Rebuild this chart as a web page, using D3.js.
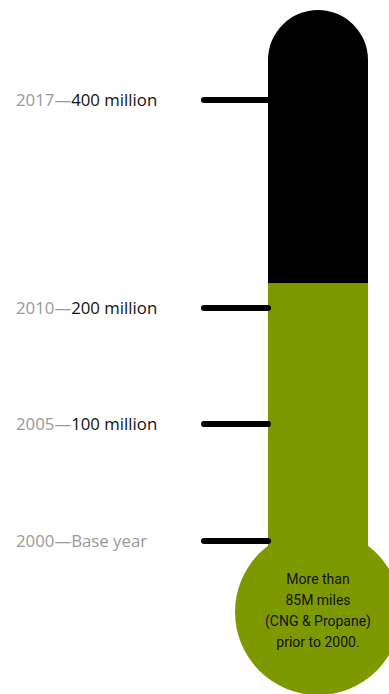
<!DOCTYPE html>
<html>
<head>
<meta charset="utf-8">
<script src="https://cdn.jsdelivr.net/npm/d3@7"></script>
<style>
  html, body { margin: 0; padding: 0; background: #fff; }
  svg { display: block; }
</style>
</head>
<body>
<script>
// Milestones: year, cumulative miles (millions), label text
const years = ["2017", "2010", "2005", "2000"];
const milesMillions = [400, 200, 100, 0];
const valueLabels = ["400 million", "200 million", "100 million", "Base year"];
// Current fill level of the tube (millions of miles)
const currentMiles = [224];
// Bulb note
const bulbLines = ["More than", "85M miles", "(CNG & Propane)", "prior to 2000."];

const W = 389, H = 694;
const svg = d3.select("body").append("svg").attr("width", W).attr("height", H);

// Vertical scale: piecewise to space the milestones along the tube
const y = d3.scaleLinear()
  .domain([0, 100, 200, 400])
  .range([541, 424, 308, 100]);

const tubeX = 268, tubeW = 100, tubeR = tubeW / 2;
const cx = tubeX + tubeR;
const tubeTop = y(400) - 90;
const bulbCY = 612, bulbR = 83;
const green = "#7e9900";

// Empty (black) part of the tube with rounded top
svg.append("path")
  .attr("d", `M${tubeX},${bulbCY} V${tubeTop + tubeR} A${tubeR},${tubeR} 0 0 1 ${tubeX + tubeW},${tubeTop + tubeR} V${bulbCY} Z`)
  .attr("fill", "#000");

// Filled (green) part of the tube
svg.append("rect")
  .attr("x", tubeX)
  .attr("y", y(currentMiles[0]))
  .attr("width", tubeW)
  .attr("height", bulbCY - y(currentMiles[0]))
  .attr("fill", green);

// Bulb
svg.append("circle")
  .attr("cx", cx)
  .attr("cy", bulbCY)
  .attr("r", bulbR)
  .attr("fill", green);

// Tick marks
svg.selectAll("line.tick")
  .data(milesMillions)
  .join("line")
  .attr("class", "tick")
  .attr("x1", 204)
  .attr("x2", tubeX)
  .attr("y1", d => y(d))
  .attr("y2", d => y(d))
  .attr("stroke", "#000")
  .attr("stroke-width", 6)
  .attr("stroke-linecap", "round");

// Milestone labels
const lab = svg.selectAll("text.lab")
  .data(years.map((yr, i) => ({ yr, v: milesMillions[i], t: valueLabels[i] })))
  .join("text")
  .attr("class", "lab")
  .attr("x", 16)
  .attr("y", d => y(d.v))
  .attr("dy", "0.36em")
  .attr("font-family", "'Open Sans', sans-serif")
  .attr("font-size", 16.8);

lab.append("tspan").attr("fill", "#999").text(d => d.yr + "\u2014");
lab.append("tspan").attr("fill", d => d.v === 0 ? "#999" : "#111").text(d => d.t);

// Bulb text
svg.append("text")
  .attr("text-anchor", "middle")
  .attr("font-family", "Roboto, sans-serif")
  .attr("font-size", 14)
  .attr("fill", "#111")
  .selectAll("tspan")
  .data(bulbLines)
  .join("tspan")
  .attr("x", cx)
  .attr("y", (d, i) => 584 + i * 21)
  .text(d => d);
</script>
</body>
</html>
